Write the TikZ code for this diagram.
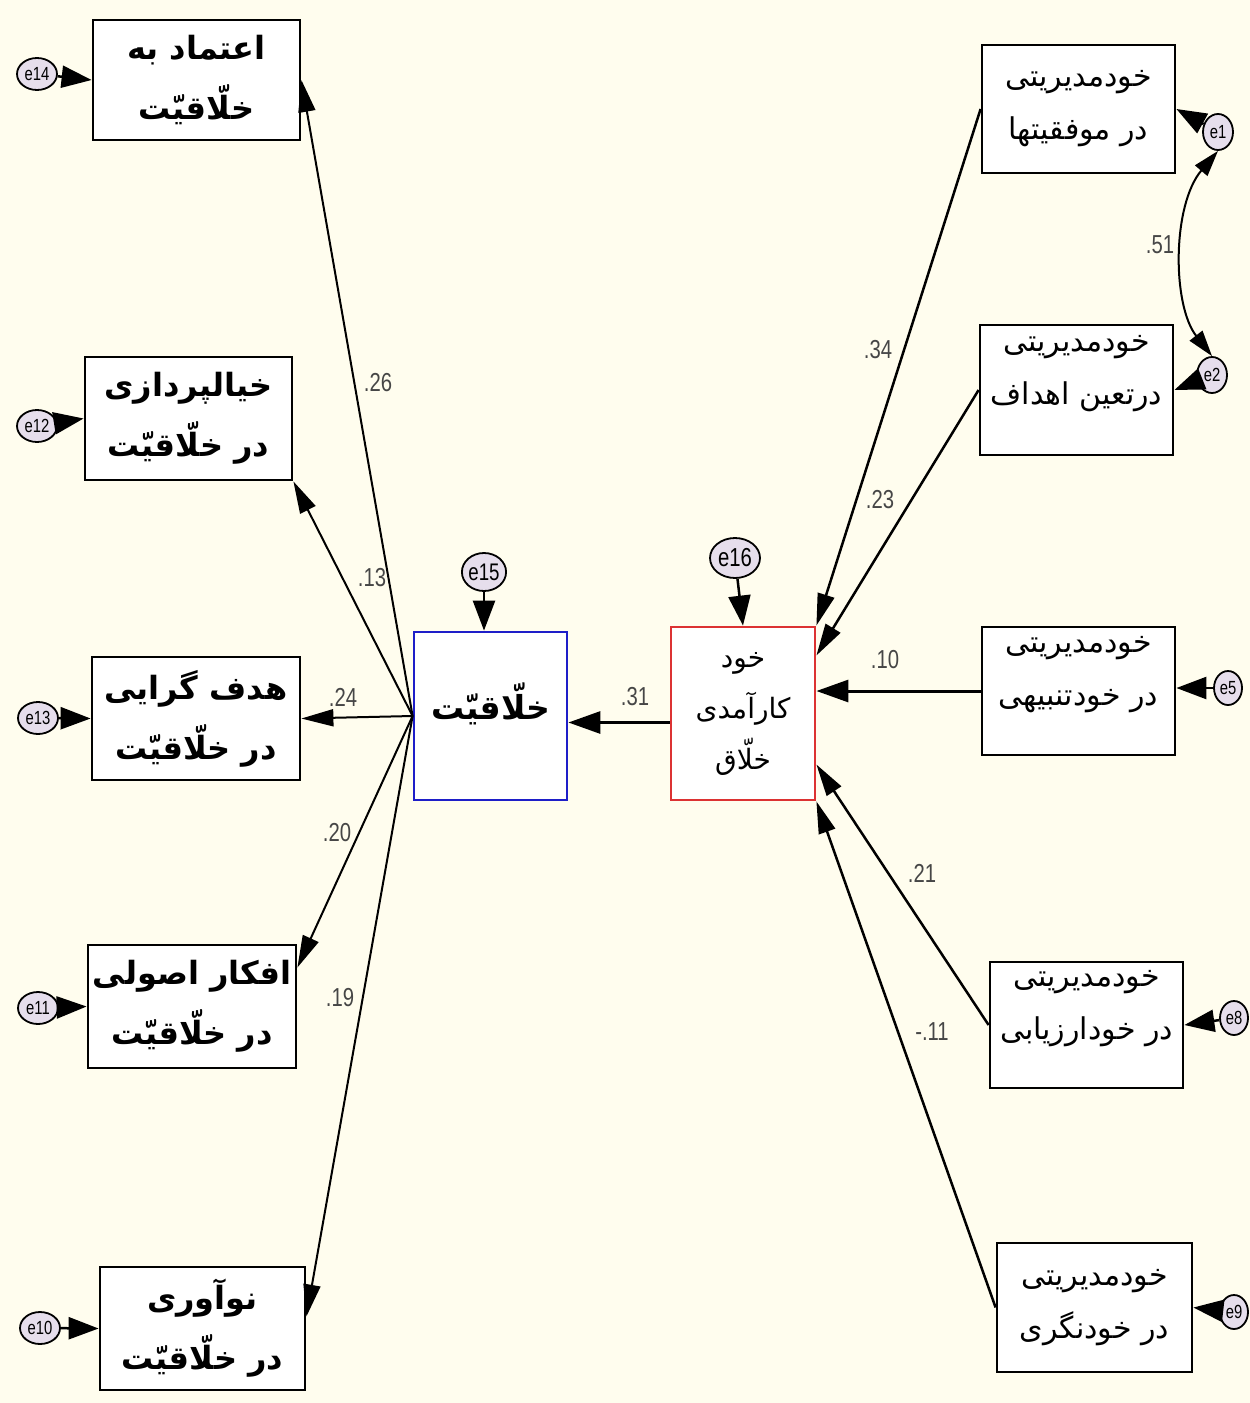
\documentclass[tikz,border=0pt]{standalone}
\usepackage{fontspec}
\usetikzlibrary{arrows.meta,shapes.geometric,calc}
\TeXXeTstate=1
\newfontfamily\arabicfont[Script=Arabic]{DejaVu Sans}
\newfontfamily\numfont[FakeStretch=0.78]{Liberation Sans}
\newcommand{\fatext}[1]{\beginR #1\endR}
\definecolor{bgcream}{RGB}{255,253,238}
\definecolor{errfill}{RGB}{230,222,236}
\definecolor{coefgray}{RGB}{70,70,70}
\definecolor{boxblue}{RGB}{30,30,200}
\definecolor{boxred}{RGB}{220,50,50}
\begin{document}
\begin{tikzpicture}[x=1pt,y=-1pt,
  box/.style={draw=black, line width=2.8pt, fill=white, rectangle, inner sep=0pt, align=center},
  lbox/.style={box, minimum width=207pt, minimum height=122pt, font=\arabicfont\bfseries\fontsize{32}{60}\selectfont},
  rbox/.style={box, minimum width=193pt, minimum height=128pt, font=\arabicfont\fontsize{30}{53}\selectfont},
  err/.style={ellipse, draw=black, line width=1.8pt, fill=errfill, inner sep=0pt, minimum width=40pt, minimum height=32pt, font=\numfont\fontsize{19}{19}\selectfont},
  errarrow/.style={line width=2.5pt, -{Triangle[length=30pt,width=22pt]}},
  conn/.style={line width=2pt, -{Triangle[length=32pt,width=17pt]}},
  bigarrow/.style={line width=3pt, -{Triangle[length=32pt,width=22pt]}},
  dbl/.style={line width=2pt, {Triangle[length=26pt,width=16pt]}-{Triangle[length=26pt,width=16pt]}},
  coef/.style={font=\numfont\fontsize{26}{26}\selectfont, text=coefgray, inner sep=0pt}
]
\fill[bgcream] (0,0) rectangle (1250,1403);
\useasboundingbox (0,0) rectangle (1250,1403);

% left boxes
\node[lbox, minimum width=207pt, minimum height=120pt] (L1) at (196.5,80) {\fatext{اعتماد به}\\\fatext{خلّاقیّت}};
\node[lbox, minimum height=123pt] (L2) at (188.5,418.5) {\fatext{خیالپردازی}\\\fatext{در خلّاقیّت}};
\node[lbox, minimum width=208pt, minimum height=123pt] (L3) at (196,718.5) {\fatext{هدف گرایی}\\\fatext{در خلّاقیّت}};
\node[lbox, minimum width=208pt, minimum height=123pt] (L4) at (192,1006.5) {\fatext{افکار اصولی}\\\fatext{در خلّاقیّت}};
\node[lbox, minimum width=205pt, minimum height=123pt] (L5) at (202.5,1328.5) {\fatext{نوآوری}\\\fatext{در خلّاقیّت}};

% central boxes
\node[box, draw=boxblue, minimum width=153pt, minimum height=168pt] (blue) at (490.5,716) {};
\node[font=\arabicfont\bfseries\fontsize{33}{40}\selectfont, inner sep=0pt] (bluetext) at ($(blue.center)+(0,-12)$) {\fatext{خلّاقیّت}};
\node[box, draw=boxred, minimum width=144pt, minimum height=173pt, font=\arabicfont\fontsize{28}{51}\selectfont] (red) at (743,713.5) {\fatext{خود}\\\fatext{کارآمدی}\\\fatext{خلّاق}};

% right boxes
\node[rbox] (R1) at (1078.5,109) {\fatext{خودمدیریتی}\\\fatext{در موفقیتها}};
\node[rbox, minimum height=130pt] (R2) at (1076.5,390) {\fatext{خودمدیریتی}\\\fatext{درتعین اهداف}\\[-12pt]};
\node[rbox] (R3) at (1078.5,691) {\fatext{خودمدیریتی}\\\fatext{در خودتنبیهی}\\[-12pt]};
\node[rbox, minimum height=126pt] (R4) at (1086.5,1025) {\fatext{خودمدیریتی}\\\fatext{در خودارزیابی}\\[-12pt]};
\node[rbox, minimum width=195pt, minimum height=129pt] (R5) at (1094.5,1307.5) {\fatext{خودمدیریتی}\\\fatext{در خودنگری}};

% error terms
\node[err] (eL1) at (37,74) {e14};
\node[err] (eL2) at (37,426) {e12};
\node[err] (eL3) at (38,718) {e13};
\node[err] (eL4) at (38,1008) {e11};
\node[err] (eL5) at (40,1328) {e10};
\node[err, minimum width=44pt, minimum height=38pt, font=\numfont\fontsize{24}{24}\selectfont] (e15) at (484,572) {e15};
\node[err, minimum width=50pt, minimum height=40pt, font=\numfont\fontsize{26}{26}\selectfont] (e16) at (735,558) {e16};
\node[err, minimum width=30pt, minimum height=36pt] (e1) at (1218,132) {e1};
\node[err, minimum width=30pt, minimum height=36pt] (e2) at (1212,375) {e2};
\node[err, minimum width=28pt, minimum height=34pt] (e5) at (1228,688) {e5};
\node[err, minimum width=28pt, minimum height=34pt] (e8) at (1234,1018) {e8};
\node[err, minimum width=28pt, minimum height=34pt] (e9) at (1234,1312) {e9};

% error arrows
\draw[errarrow] (eL1) -- (L1.west);
\draw[errarrow] (eL2) -- (L2.west);
\draw[errarrow] (eL3) -- (L3.west);
\draw[errarrow] (eL4) -- (L4.west);
\draw[errarrow] (eL5) -- (L5.west);
\draw[errarrow] (e15) -- (e15 |- blue.north);
\draw[errarrow] (e16) -- (red.north);
\draw[errarrow] (e1) -- (R1.east);
\draw[errarrow] (e2) -- (R2.east);
\draw[errarrow] (e5) -- (e5 -| R3.east);
\draw[errarrow] (e8) -- (R4.east);
\draw[errarrow] (e9) -- (R5.east);

% fan from creativity
\coordinate (hub) at (blue.west);
\draw[conn] (hub) -- (L1.east);
\draw[conn] (hub) -- (L2.south east);
\draw[conn] (hub) -- (L3.east);
\draw[conn] (hub) -- ($(L4.north east)!0.19!(L4.south east)$);
\draw[conn] (hub) -- ($(L5.east)+(0,-12)$);

% red to blue
\coordinate (rw) at ($(red.west)+(0,9)$);
\draw[bigarrow] (rw) -- (rw -| blue.east);

% right to red
\draw[conn, line width=2.5pt] (R1.west) -- (red.north east);
\draw[conn, line width=2.5pt] (R2.west) -- ($(red.north east)!0.17!(red.south east)$);
\draw[bigarrow] (R3.west) -- (R3.west -| red.east);
\draw[conn, line width=2.5pt] (R4.west) -- ($(red.north east)!0.79!(red.south east)$);
\draw[conn, line width=2.5pt] (R5.west) -- (red.south east);

% covariance
\draw[dbl] (e1.south) .. controls (1172,205) and (1172,305) .. (e2.north);

% coefficients
\node[coef] (c26) at (378,383) {.26};
\node[coef] (c13) at (372,578) {.13};
\node[coef] (c24) at (343,697) {.24};
\node[coef] (c20) at (337,833) {.20};
\node[coef] (c19) at (340,998) {.19};
\node[coef] (c31) at (635,697) {.31};
\node[coef] (c34) at (878,350) {.34};
\node[coef] (c23) at (880,500) {.23};
\node[coef] (c10) at (885,660) {.10};
\node[coef] (c21) at (922,873) {.21};
\node[coef] (c11) at (932,1032) {-.11};
\node[coef] (c51) at (1160,245) {.51};
\end{tikzpicture}
\end{document}
